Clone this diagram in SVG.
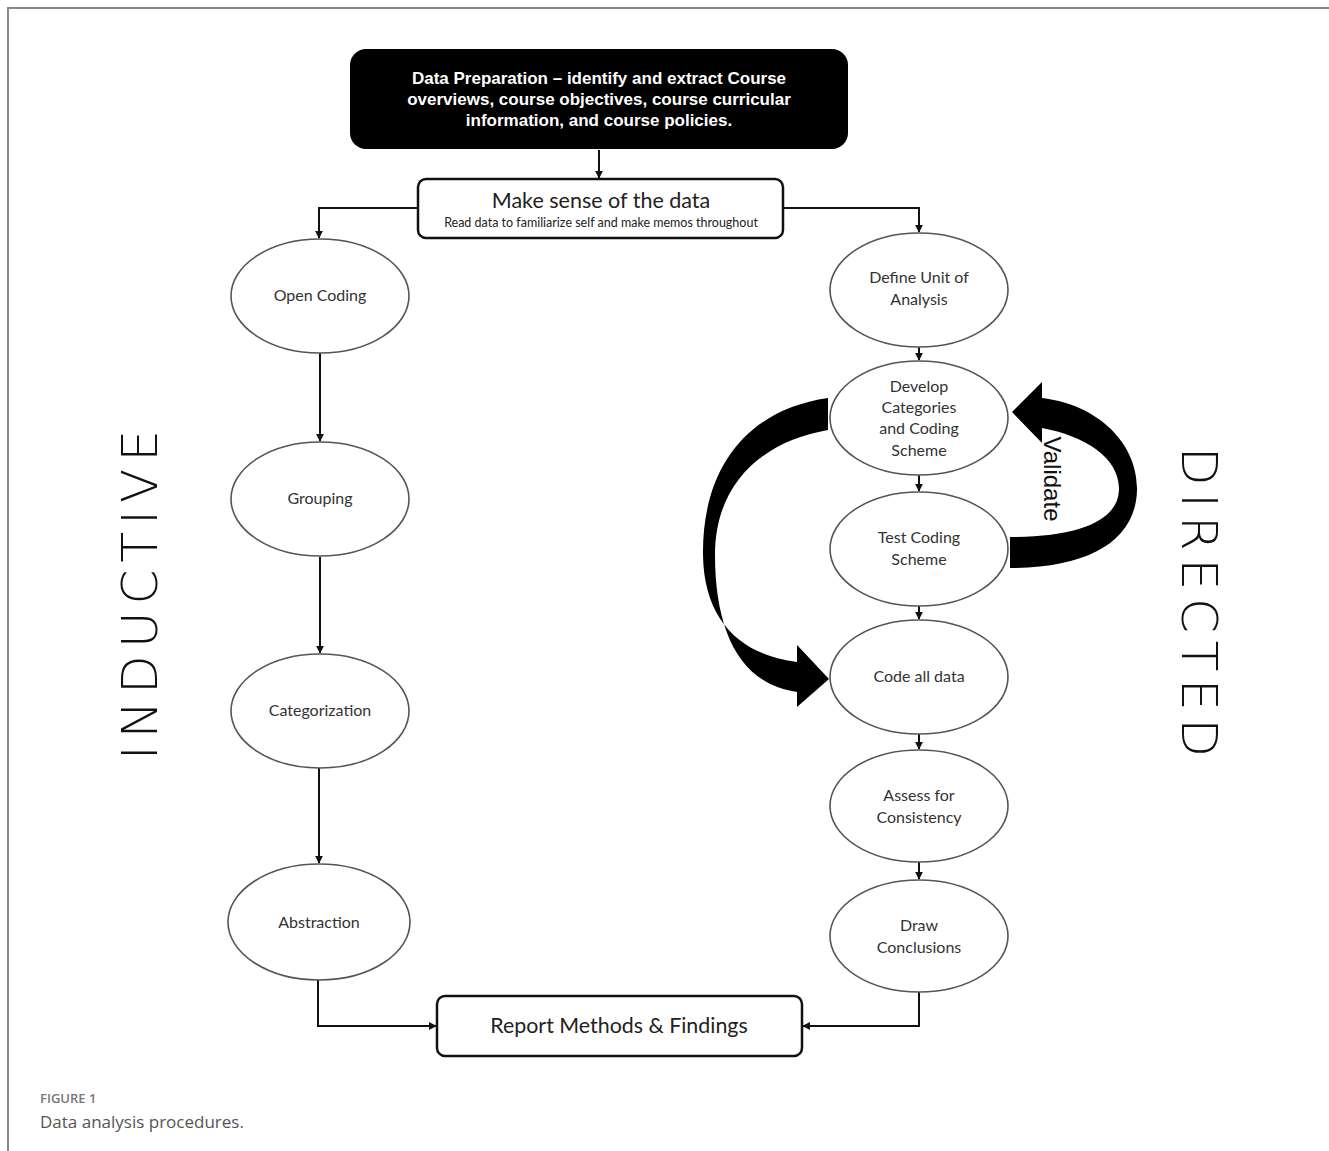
<svg xmlns="http://www.w3.org/2000/svg" width="1329" height="1151" viewBox="0 0 1329 1151">
<style>
.el{fill:#fff;stroke:#555;stroke-width:1.6}
.lb{font-family:Lato,"Open Sans",sans-serif;font-size:16px;fill:#333;text-anchor:middle}
.cn{fill:none;stroke:#111;stroke-width:2}
.big{font-family:"DejaVu Sans","Liberation Sans",sans-serif;font-weight:300;font-size:50px;fill:#111}
</style>
<defs>
<marker id="ah" viewBox="0 0 10 10" refX="9" refY="5" markerWidth="4" markerHeight="4" orient="auto"><path d="M0,0 L10,5 L0,10 z" fill="#111"/></marker>
</defs>
<rect width="1329" height="1151" fill="#fff"/>
<path d="M8,1151 V8 H1329" fill="none" stroke="#888" stroke-width="2"/>

<g id="connectors">
<path class="cn" d="M599,150 V178" stroke="#666" stroke-width="1.2" marker-end="url(#ah)"/>
<path class="cn" d="M418,208 H319 V238" marker-end="url(#ah)"/>
<path class="cn" d="M783,208 H919 V232" marker-end="url(#ah)"/>
<path class="cn" d="M320,353 V441" marker-end="url(#ah)"/>
<path class="cn" d="M320,557 V653" marker-end="url(#ah)"/>
<path class="cn" d="M319,768 V863" marker-end="url(#ah)"/>
<path class="cn" d="M318,980 V1026 H436" marker-end="url(#ah)"/>
<path class="cn" d="M919,347 V360" marker-end="url(#ah)"/>
<path class="cn" d="M919,474 V491" marker-end="url(#ah)"/>
<path class="cn" d="M919,606 V619" marker-end="url(#ah)"/>
<path class="cn" d="M919,733 V749" marker-end="url(#ah)"/>
<path class="cn" d="M919,862 V879" marker-end="url(#ah)"/>
<path class="cn" d="M919,992 V1026 H803" marker-end="url(#ah)"/>
<path d="M828,398 C745,410 702,470 703,555 C704,620 740,655 797,662 L797,645 L829,679 L797,707 L797,692 C738,684 715,628 715,555 C715,485 760,442 828,430 Z" fill="#000"/>
<path d="M1010,537 C1080,537 1118,520 1119,490 C1120,458 1085,436 1042,428 L1042,443 L1012,412 L1042,382 L1042,398 C1100,405 1138,445 1137,490 C1136,540 1090,568 1010,568 Z" fill="#000"/>
<text transform="translate(1044,479) rotate(90)" font-family="Liberation Sans,Arial,sans-serif" font-size="24" fill="#111" text-anchor="middle">Validate</text>
</g>

<g id="data-prep">
<rect x="350" y="49" width="498" height="100" rx="16" fill="#000"/>
<g font-family="Liberation Sans,Arial,sans-serif" font-weight="bold" font-size="17" fill="#fff" text-anchor="middle">
<text x="599" y="84">Data Preparation – identify and extract Course</text>
<text x="599" y="105">overviews, course objectives, course curricular</text>
<text x="599" y="126">information, and course policies.</text>
</g>
</g>

<g id="make-sense">
<rect x="418" y="179" width="365" height="59" rx="8" fill="#fff" stroke="#111" stroke-width="2.5"/>
<text x="601" y="208" font-family="Lato,'Open Sans',sans-serif" font-size="21.5" fill="#222" text-anchor="middle">Make sense of the data</text>
<text x="601" y="227" font-family="Lato,'Open Sans',sans-serif" font-size="12.5" fill="#222" text-anchor="middle">Read data to familiarize self and make memos throughout</text>
</g>

<g id="open-coding"><ellipse class="el" cx="320" cy="296" rx="89" ry="57"/><text class="lb" x="320" y="301">Open Coding</text></g>
<g id="grouping"><ellipse class="el" cx="320" cy="499" rx="89" ry="57"/><text class="lb" x="320" y="504">Grouping</text></g>
<g id="categorization"><ellipse class="el" cx="320" cy="711" rx="89" ry="57"/><text class="lb" x="320" y="716" font-size="14.5">Categorization</text></g>
<g id="abstraction"><ellipse class="el" cx="319" cy="922" rx="91" ry="58"/><text class="lb" x="319" y="928">Abstraction</text></g>

<g id="define-unit"><ellipse class="el" cx="919" cy="290" rx="89" ry="57"/><text class="lb" x="919" y="283">Define Unit of</text><text class="lb" x="919" y="305">Analysis</text></g>
<g id="develop"><ellipse class="el" cx="919" cy="418" rx="89" ry="57"/><text class="lb" x="919" y="392">Develop</text><text class="lb" x="919" y="413">Categories</text><text class="lb" x="919" y="434">and Coding</text><text class="lb" x="919" y="456">Scheme</text></g>
<g id="test-coding"><ellipse class="el" cx="919" cy="549" rx="89" ry="57"/><text class="lb" x="919" y="543">Test Coding</text><text class="lb" x="919" y="565">Scheme</text></g>
<g id="code-all"><ellipse class="el" cx="919" cy="677" rx="89" ry="57"/><text class="lb" x="919" y="682">Code all data</text></g>
<g id="assess"><ellipse class="el" cx="919" cy="806" rx="89" ry="56"/><text class="lb" x="919" y="801">Assess for</text><text class="lb" x="919" y="823">Consistency</text></g>
<g id="draw"><ellipse class="el" cx="919" cy="936" rx="89" ry="56"/><text class="lb" x="919" y="931">Draw</text><text class="lb" x="919" y="953">Conclusions</text></g>

<g id="report">
<rect x="437" y="996" width="365" height="60" rx="8" fill="#fff" stroke="#111" stroke-width="2.5"/>
<text x="619" y="1033" font-family="Lato,'Open Sans',sans-serif" font-size="21.4" fill="#222" text-anchor="middle">Report Methods &amp; Findings</text>
</g>

<text class="big" transform="translate(157,595) rotate(-90)" text-anchor="middle" textLength="330" lengthAdjust="spacing">INDUCTIVE</text>
<text class="big" transform="translate(1182,602) rotate(90)" text-anchor="middle" textLength="310" lengthAdjust="spacing">DIRECTED</text>

<text x="40" y="1103" font-family="'Open Sans',sans-serif" font-weight="600" font-size="13" fill="#777">FIGURE 1</text>
<text x="40" y="1128" font-family="'Open Sans',sans-serif" font-size="17" fill="#555">Data analysis procedures.</text>
</svg>
